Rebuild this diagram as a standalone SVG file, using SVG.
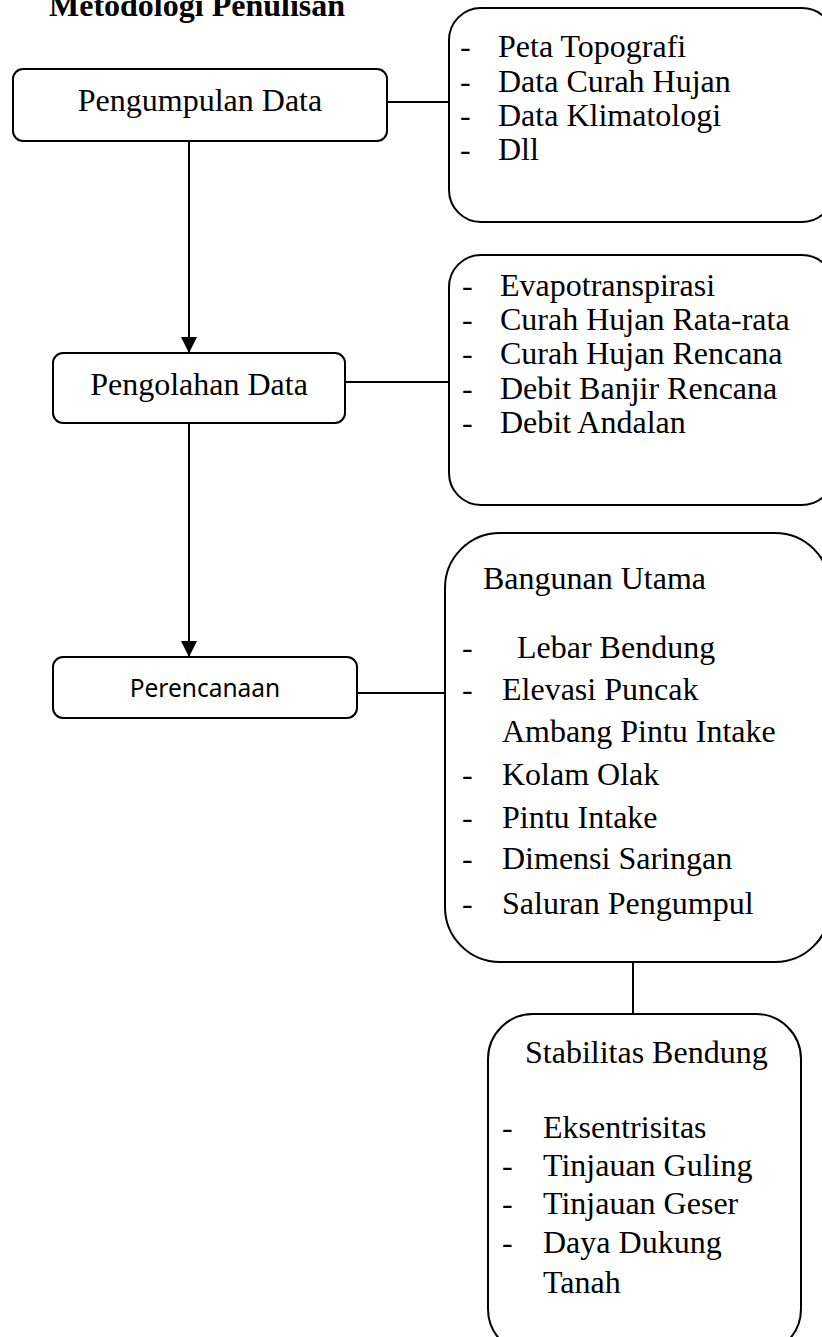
<svg xmlns="http://www.w3.org/2000/svg" width="822" height="1337" viewBox="0 0 822 1337">
<style>
.box{fill:#fff;stroke:#000;stroke-width:2}
.con{fill:none;stroke:#000;stroke-width:2}
.t{font-family:"Liberation Serif","Times New Roman",serif;font-size:32px;fill:#000}
.c{text-anchor:middle}
.s{font-family:"Noto Sans","Liberation Sans",sans-serif;font-size:24.5px;fill:#000;text-anchor:middle}
.h{font-family:"Liberation Serif","Times New Roman",serif;font-size:32px;font-weight:bold;fill:#000}
</style>
<defs>
<marker id="arr" viewBox="0 0 16 16" refX="16" refY="8" markerWidth="16" markerHeight="16" markerUnits="userSpaceOnUse" orient="auto">
<path d="M0,0 L16,8 L0,16 z" fill="#000"/>
</marker>
</defs>
<text class="h" x="49" y="16">Metodologi Penulisan</text>
<g id="connectors">
<line class="con" x1="189" y1="141" x2="189" y2="353" marker-end="url(#arr)"/>
<line class="con" x1="189" y1="423" x2="189" y2="657" marker-end="url(#arr)"/>
<line class="con" x1="387" y1="102" x2="449" y2="102"/>
<line class="con" x1="345" y1="382" x2="449" y2="382"/>
<line class="con" x1="357" y1="693" x2="445" y2="693"/>
<line class="con" x1="633" y1="962" x2="633" y2="1014"/>
</g>
<g id="node-pengumpulan">
<rect class="box" x="13" y="69" width="374" height="72" rx="10"/>
<text class="t c" x="200" y="111">Pengumpulan Data</text>
</g>
<g id="node-pengolahan">
<rect class="box" x="53" y="353" width="292" height="70" rx="10"/>
<text class="t c" x="199" y="395">Pengolahan Data</text>
</g>
<g id="node-perencanaan">
<rect class="box" x="53" y="657" width="304" height="61" rx="10"/>
<text class="s" x="205" y="697">Perencanaan</text>
</g>
<g id="list-data">
<rect class="box" x="449" y="8" width="385" height="214" rx="32"/>
<text class="t" x="460" y="57">-</text><text class="t" x="498" y="57">Peta Topografi</text>
<text class="t" x="460" y="92">-</text><text class="t" x="498" y="92">Data Curah Hujan</text>
<text class="t" x="460" y="126">-</text><text class="t" x="498" y="126">Data Klimatologi</text>
<text class="t" x="460" y="160">-</text><text class="t" x="498" y="160">Dll</text>
</g>
<g id="list-olah">
<rect class="box" x="449" y="255" width="385" height="250" rx="32"/>
<text class="t" x="462" y="296">-</text><text class="t" x="500" y="296">Evapotranspirasi</text>
<text class="t" x="462" y="330">-</text><text class="t" x="500" y="330">Curah Hujan Rata-rata</text>
<text class="t" x="462" y="364">-</text><text class="t" x="500" y="364">Curah Hujan Rencana</text>
<text class="t" x="462" y="399">-</text><text class="t" x="500" y="399">Debit Banjir Rencana</text>
<text class="t" x="462" y="433">-</text><text class="t" x="500" y="433">Debit Andalan</text>
</g>
<g id="list-bangunan">
<rect class="box" x="445" y="533" width="385" height="429" rx="55"/>
<text class="t" x="483" y="589">Bangunan Utama</text>
<text class="t" x="462" y="658">-</text><text class="t" x="517" y="658">Lebar Bendung</text>
<text class="t" x="462" y="700">-</text><text class="t" x="502" y="700">Elevasi Puncak</text>
<text class="t" x="502" y="742">Ambang Pintu Intake</text>
<text class="t" x="462" y="785">-</text><text class="t" x="502" y="785">Kolam Olak</text>
<text class="t" x="462" y="828">-</text><text class="t" x="502" y="828">Pintu Intake</text>
<text class="t" x="462" y="869">-</text><text class="t" x="502" y="869">Dimensi Saringan</text>
<text class="t" x="462" y="914">-</text><text class="t" x="502" y="914">Saluran Pengumpul</text>
</g>
<g id="list-stabilitas">
<rect class="box" x="488" y="1014" width="313" height="340" rx="45"/>
<text class="t" x="525" y="1063">Stabilitas Bendung</text>
<text class="t" x="502" y="1138">-</text><text class="t" x="543" y="1138">Eksentrisitas</text>
<text class="t" x="502" y="1176">-</text><text class="t" x="543" y="1176">Tinjauan Guling</text>
<text class="t" x="502" y="1214">-</text><text class="t" x="543" y="1214">Tinjauan Geser</text>
<text class="t" x="502" y="1253">-</text><text class="t" x="543" y="1253">Daya Dukung</text>
<text class="t" x="543" y="1293">Tanah</text>
</g>
</svg>
